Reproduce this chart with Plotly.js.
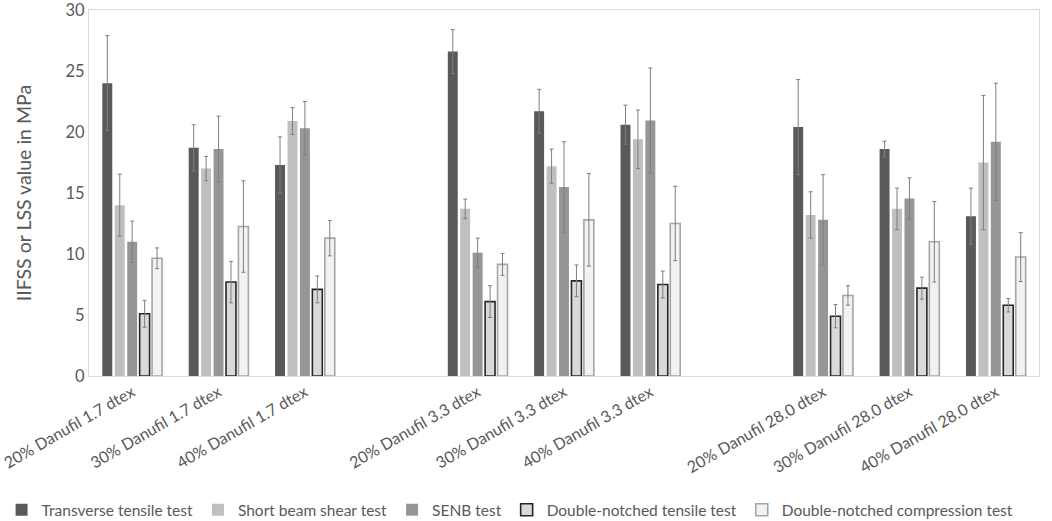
<!DOCTYPE html>
<html><head><meta charset="utf-8">
<script src="https://cdn.plot.ly/plotly-3.0.1.min.js"></script>
<style>html,body{margin:0;padding:0;background:#fff}#c{width:1052px;height:521px}</style>
</head><body><div id="c"></div>
<script>
const categories = ["20% Danufil 1.7 dtex","30% Danufil 1.7 dtex","40% Danufil 1.7 dtex"," ",
  "20% Danufil 3.3 dtex","30% Danufil 3.3 dtex","40% Danufil 3.3 dtex","  ",
  "20% Danufil 28.0 dtex","30% Danufil 28.0 dtex","40% Danufil 28.0 dtex"];
const seriesNames = ["Transverse tensile test","Short beam shear test","SENB test","Double-notched tensile test","Double-notched compression test"];
const transverse = [24.0,18.7,17.3,null,26.6,21.7,20.6,null,20.4,18.6,13.1];
const transverseErr = [3.9,1.9,2.3,null,1.8,1.8,1.6,null,3.9,0.65,2.3];
const shortBeam = [14.0,17.0,20.9,null,13.7,17.2,19.4,null,13.2,13.7,17.5];
const shortBeamErr = [2.55,1.0,1.1,null,0.8,1.4,2.4,null,1.9,1.7,5.5];
const senb = [11.0,18.6,20.3,null,10.1,15.5,20.95,null,12.8,14.55,19.2];
const senbErr = [1.7,2.7,2.2,null,1.2,3.7,4.3,null,3.7,1.7,4.8];
const dnTensile = [5.1,7.7,7.1,null,6.1,7.8,7.5,null,4.9,7.2,5.8];
const dnTensileErr = [1.1,1.7,1.1,null,1.3,1.3,1.1,null,0.95,0.9,0.55];
const dnCompression = [9.65,12.25,11.3,null,9.15,12.8,12.5,null,6.6,11.0,9.75];
const dnCompressionErr = [0.85,3.75,1.45,null,0.9,3.8,3.05,null,0.8,3.3,2.0];
const yTicks = [0,5,10,15,20,25,30];

const values = [transverse, shortBeam, senb, dnTensile, dnCompression];
const errs = [transverseErr, shortBeamErr, senbErr, dnTensileErr, dnCompressionErr];
const fills = ["#595959","#bfbfbf","#969696","#d9d9d9","#f2f2f2"];
const borders = ["#595959","#bfbfbf","#969696","#262626","#a6a6a6"];
const borderW = [0,0,0,1.6,1.6];

const FONT = "Lato, 'Open Sans', sans-serif";
const traces = values.map((v,i)=>({
  type:'bar', name:seriesNames[i], x:categories, y:v,
  marker:{color:fills[i], line:{color:borders[i], width:borderW[i]}},
  error_y:{type:'data', array:errs[i], visible:true, color:'#7f7f7f', thickness:1, width:2}
}));

const layout = {
  width:1052, height:521,
  margin:{l:89, r:13, t:10, b:145, autoexpand:false},
  paper_bgcolor:'#fff', plot_bgcolor:'#fff',
  font:{family:FONT, color:'#595959', size:15},
  barmode:'group', bargap:0.28, bargroupgap:0.2,
  showlegend:true,
  legend:{orientation:'h', x:-0.092, xanchor:'left', y:-0.32, yanchor:'top',
    font:{size:15.5, color:'#595959', family:FONT}, traceorder:'normal', itemwidth:30},
  xaxis:{type:'category', categoryorder:'array', categoryarray:categories, automargin:false,
    range:[-0.5,10.5], tickangle:-30, tickfont:{size:16, color:'#595959'},
    showline:true, linecolor:'#d9d9d9', mirror:true, ticks:'', showgrid:false, zeroline:false},
  yaxis:{range:[0,30], tickvals:yTicks, ticks:'', showgrid:false, zeroline:false, automargin:false,
    showline:true, linecolor:'#d9d9d9', mirror:true, ticklabeloverflow:'allow',
    tickfont:{size:16.5, color:'#595959'},
    title:{text:'IIFSS or LSS value in MPa', font:{size:19.5, color:'#595959'}, standoff:28}}
};
Plotly.newPlot('c', traces, layout, {displayModeBar:false, staticPlot:true});
</script></body></html>
